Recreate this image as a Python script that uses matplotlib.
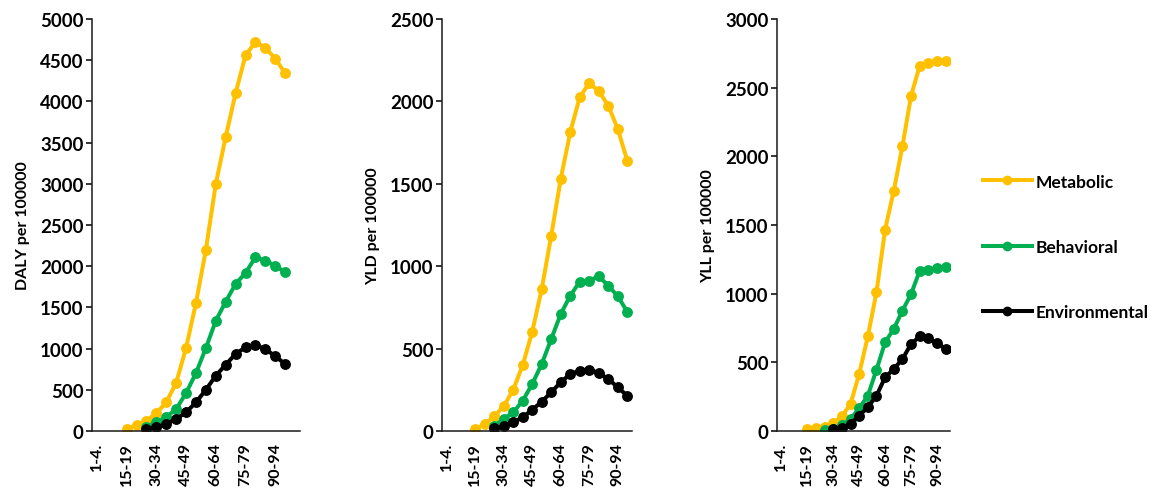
import numpy as np
import matplotlib
matplotlib.use('Agg')
import matplotlib.pyplot as plt
from matplotlib.lines import Line2D

OUTPUT = 'out.png'

NA = np.nan

AGE_GROUPS = [
    '1-4.', '5-9', '10-14', '15-19', '20-24', '25-29', '30-34', '35-39',
    '40-44', '45-49', '50-54', '55-59', '60-64', '65-69', '70-74', '75-79',
    '80-84', '85-89', '90-94', '95+',
]

RISKS = ['Metabolic', 'Behavioral', 'Environmental']
COLORS = ['#FFC000', '#00B050', '#000000']

DALY_METABOLIC = [NA, NA, NA, 30, 70, 125, 215, 350, 585, 1010, 1555, 2200,
                  3000, 3570, 4100, 4560, 4720, 4650, 4520, 4340]
DALY_BEHAVIORAL = [NA, NA, NA, NA, NA, 48, 109, 170, 267, 461, 704, 1007,
                   1339, 1570, 1785, 1918, 2108, 2067, 2007, 1926]
DALY_ENVIRONMENTAL = [NA, NA, NA, NA, NA, 24, 45, 85, 146, 227, 348, 501,
                      671, 805, 935, 1016, 1044, 995, 907, 813]

YLD_METABOLIC = [NA, NA, NA, 12, 42, 89, 150, 251, 400, 603, 862, 1186,
                 1530, 1813, 2026, 2111, 2062, 1975, 1833, 1641]
YLD_BEHAVIORAL = [NA, NA, NA, NA, NA, 32, 73, 113, 184, 285, 407, 558,
                  710, 821, 906, 912, 939, 882, 818, 724]
YLD_ENVIRONMENTAL = [NA, NA, NA, NA, NA, 16, 28, 53, 83, 129, 178, 235,
                     296, 346, 366, 372, 352, 316, 265, 214]

YLL_METABOLIC = [NA, NA, NA, 15, 20, 30, 58, 107, 197, 415, 689, 1010,
                 1466, 1750, 2073, 2441, 2659, 2679, 2691, 2696]
YLL_BEHAVIORAL = [NA, NA, NA, NA, NA, 5, 15, 44, 87, 165, 257, 446,
                  646, 743, 876, 997, 1167, 1174, 1184, 1192]
YLL_ENVIRONMENTAL = [NA, NA, NA, NA, NA, NA, 15, 20, 51, 112, 172, 257,
                     391, 451, 524, 633, 689, 675, 641, 597]

PANELS = [
    ('DALY per 100000', 5000, [DALY_METABOLIC, DALY_BEHAVIORAL, DALY_ENVIRONMENTAL]),
    ('YLD per 100000', 2500, [YLD_METABOLIC, YLD_BEHAVIORAL, YLD_ENVIRONMENTAL]),
    ('YLL per 100000', 3000, [YLL_METABOLIC, YLL_BEHAVIORAL, YLL_ENVIRONMENTAL]),
]

# axes boxes in figure pixels: left, right, upper x limit
BOXES = [(92, 300, 20.5), (442, 632, 19.5), (777, 950, 19.5)]
FIG_W, FIG_H = 1153, 489
TOP_PX, BOTTOM_PX = 20, 432


def main():
    plt.rcParams['font.family'] = ['Lato', 'DejaVu Sans']
    plt.rcParams['font.weight'] = 'bold'

    fig = plt.figure(figsize=(FIG_W / 100, FIG_H / 100), dpi=100)
    x = np.arange(len(AGE_GROUPS))

    for (label, ymax, series), (left, right, xmax) in zip(PANELS, BOXES):
        ax = fig.add_axes([
            left / FIG_W,
            (FIG_H - BOTTOM_PX) / FIG_H,
            (right - left) / FIG_W,
            (BOTTOM_PX - TOP_PX) / FIG_H,
        ])
        for values, color in zip(series, COLORS):
            ax.plot(x, values, color=color, lw=2.9, marker='o', ms=6.8,
                    solid_capstyle='round')

        ax.set_xlim(-0.5, xmax)
        ax.set_ylim(0, ymax)
        ax.set_yticks(np.arange(0, ymax + 1, 500))
        ax.set_xticks(x[::3])
        ax.set_xticklabels(AGE_GROUPS[::3], rotation=90, fontsize=11.5,
                           fontweight='bold')
        ax.tick_params(axis='x', length=0, pad=8)
        ax.tick_params(axis='y', length=4, width=1.1, pad=2, labelsize=13.5)
        for tl in ax.get_yticklabels():
            tl.set_fontweight('bold')
        ax.set_ylabel(label, fontsize=11.5, fontweight='bold', labelpad=7)

        for side in ('top', 'right'):
            ax.spines[side].set_visible(False)
        for side in ('left', 'bottom'):
            ax.spines[side].set_linewidth(1.1)
            ax.spines[side].set_color('#1a1a1a')

    handles = [
        Line2D([], [], color=c, lw=2.9, marker='o', ms=6)
        for c in COLORS
    ]
    fig.legend(
        handles, RISKS,
        loc='center left',
        bbox_to_anchor=(983 / FIG_W, (FIG_H - 248) / FIG_H),
        frameon=False,
        handlelength=2.8,
        handletextpad=0.25,
        labelspacing=2.85,
        borderpad=0,
        borderaxespad=0,
        prop={'weight': 'bold', 'size': 12.5},
    )

    fig.savefig(OUTPUT, dpi=100)
    print(f'Saved {OUTPUT}')


if __name__ == '__main__':
    main()
